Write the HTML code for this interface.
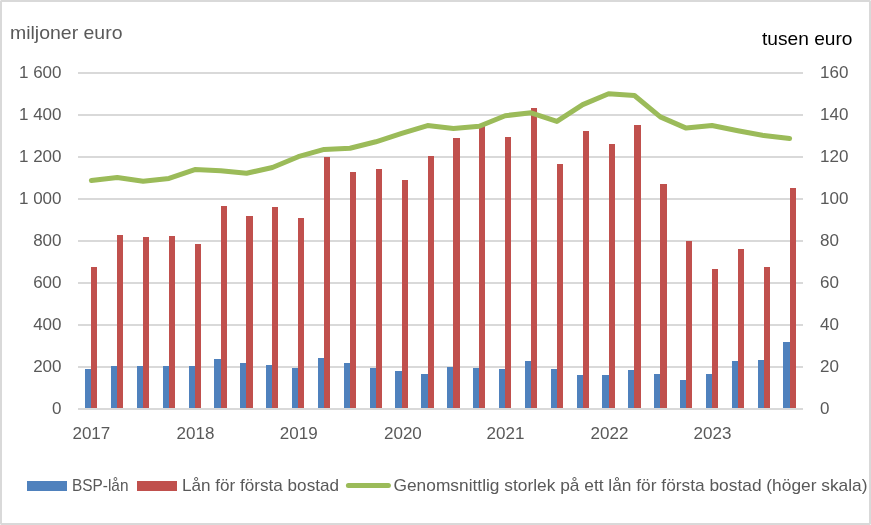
<!DOCTYPE html>
<html><head><meta charset="utf-8"><style>
html,body{margin:0;padding:0;background:#fff;}
#c{position:relative;width:871px;height:525px;overflow:hidden;background:#fff;}
#b{position:absolute;left:0;top:0;width:871px;height:525px;box-sizing:border-box;border:2px solid #d9d9d9;}
text{font-family:'Liberation Sans', Arial, sans-serif;}
.ax{font-size:17px;fill:#595959;}
.t1{font-size:18.5px;fill:#595959;}
.t2{font-size:18.5px;fill:#000;}
.lg{font-size:17px;fill:#595959;}
</style></head><body><div id="c">
<div id="b"></div>
<svg width="871" height="525" viewBox="0 0 871 525" style="position:absolute;left:0;top:0;will-change:transform">
<rect x="78" y="72" width="725" height="2" fill="#d9d9d9"/>
<rect x="78" y="114" width="725" height="2" fill="#d9d9d9"/>
<rect x="78" y="156" width="725" height="2" fill="#d9d9d9"/>
<rect x="78" y="198" width="725" height="2" fill="#d9d9d9"/>
<rect x="78" y="240" width="725" height="2" fill="#d9d9d9"/>
<rect x="78" y="282" width="725" height="2" fill="#d9d9d9"/>
<rect x="78" y="324" width="725" height="2" fill="#d9d9d9"/>
<rect x="78" y="366" width="725" height="2" fill="#d9d9d9"/>
<rect x="78" y="408" width="725" height="2" fill="#d9d9d9"/>
<rect x="85" y="369" width="6" height="39" fill="#4f81bd"/>
<rect x="91" y="267" width="6" height="141" fill="#c0504d"/>
<rect x="111" y="366" width="6" height="42" fill="#4f81bd"/>
<rect x="117" y="235" width="6" height="173" fill="#c0504d"/>
<rect x="137" y="366" width="6" height="42" fill="#4f81bd"/>
<rect x="143" y="237" width="6" height="171" fill="#c0504d"/>
<rect x="163" y="366" width="6" height="42" fill="#4f81bd"/>
<rect x="169" y="236" width="6" height="172" fill="#c0504d"/>
<rect x="189" y="366" width="6" height="42" fill="#4f81bd"/>
<rect x="195" y="244" width="6" height="164" fill="#c0504d"/>
<rect x="214" y="359" width="7" height="49" fill="#4f81bd"/>
<rect x="221" y="206" width="6" height="202" fill="#c0504d"/>
<rect x="240" y="363" width="6" height="45" fill="#4f81bd"/>
<rect x="246" y="216" width="7" height="192" fill="#c0504d"/>
<rect x="266" y="365" width="6" height="43" fill="#4f81bd"/>
<rect x="272" y="207" width="6" height="201" fill="#c0504d"/>
<rect x="292" y="368" width="6" height="40" fill="#4f81bd"/>
<rect x="298" y="218" width="6" height="190" fill="#c0504d"/>
<rect x="318" y="358" width="6" height="50" fill="#4f81bd"/>
<rect x="324" y="157" width="6" height="251" fill="#c0504d"/>
<rect x="344" y="363" width="6" height="45" fill="#4f81bd"/>
<rect x="350" y="172" width="6" height="236" fill="#c0504d"/>
<rect x="370" y="368" width="6" height="40" fill="#4f81bd"/>
<rect x="376" y="169" width="6" height="239" fill="#c0504d"/>
<rect x="395" y="371" width="7" height="37" fill="#4f81bd"/>
<rect x="402" y="180" width="6" height="228" fill="#c0504d"/>
<rect x="421" y="374" width="7" height="34" fill="#4f81bd"/>
<rect x="428" y="156" width="6" height="252" fill="#c0504d"/>
<rect x="447" y="367" width="6" height="41" fill="#4f81bd"/>
<rect x="453" y="138" width="7" height="270" fill="#c0504d"/>
<rect x="473" y="368" width="6" height="40" fill="#4f81bd"/>
<rect x="479" y="126" width="6" height="282" fill="#c0504d"/>
<rect x="499" y="369" width="6" height="39" fill="#4f81bd"/>
<rect x="505" y="137" width="6" height="271" fill="#c0504d"/>
<rect x="525" y="361" width="6" height="47" fill="#4f81bd"/>
<rect x="531" y="108" width="6" height="300" fill="#c0504d"/>
<rect x="551" y="369" width="6" height="39" fill="#4f81bd"/>
<rect x="557" y="164" width="6" height="244" fill="#c0504d"/>
<rect x="577" y="375" width="6" height="33" fill="#4f81bd"/>
<rect x="583" y="131" width="6" height="277" fill="#c0504d"/>
<rect x="602" y="375" width="7" height="33" fill="#4f81bd"/>
<rect x="609" y="144" width="6" height="264" fill="#c0504d"/>
<rect x="628" y="370" width="6" height="38" fill="#4f81bd"/>
<rect x="634" y="125" width="7" height="283" fill="#c0504d"/>
<rect x="654" y="374" width="6" height="34" fill="#4f81bd"/>
<rect x="660" y="184" width="7" height="224" fill="#c0504d"/>
<rect x="680" y="380" width="6" height="28" fill="#4f81bd"/>
<rect x="686" y="241" width="6" height="167" fill="#c0504d"/>
<rect x="706" y="374" width="6" height="34" fill="#4f81bd"/>
<rect x="712" y="269" width="6" height="139" fill="#c0504d"/>
<rect x="732" y="361" width="6" height="47" fill="#4f81bd"/>
<rect x="738" y="249" width="6" height="159" fill="#c0504d"/>
<rect x="758" y="360" width="6" height="48" fill="#4f81bd"/>
<rect x="764" y="267" width="6" height="141" fill="#c0504d"/>
<rect x="783" y="342" width="7" height="66" fill="#4f81bd"/>
<rect x="790" y="188" width="6" height="220" fill="#c0504d"/>
<polyline points="91.40,180.50 117.26,177.50 143.12,181.20 168.98,178.40 194.84,169.55 220.70,170.70 246.56,173.25 272.41,167.50 298.27,156.70 324.13,149.40 349.99,148.20 375.85,141.80 401.71,133.40 427.57,125.60 453.43,128.50 479.29,126.30 505.15,115.70 531.01,112.80 556.87,121.40 582.73,104.60 608.59,93.70 634.44,95.50 660.30,116.90 686.16,128.10 712.02,125.50 737.88,130.80 763.74,135.60 789.60,138.50" fill="none" stroke="#9bbb59" stroke-width="5" stroke-linecap="round" stroke-linejoin="round"/>
<text x="61.5" y="78.3" text-anchor="end" class="ax">1 600</text>
<text x="61.5" y="120.3" text-anchor="end" class="ax">1 400</text>
<text x="61.5" y="162.3" text-anchor="end" class="ax">1 200</text>
<text x="61.5" y="204.3" text-anchor="end" class="ax">1 000</text>
<text x="61.5" y="246.3" text-anchor="end" class="ax">800</text>
<text x="61.5" y="288.3" text-anchor="end" class="ax">600</text>
<text x="61.5" y="330.3" text-anchor="end" class="ax">400</text>
<text x="61.5" y="372.3" text-anchor="end" class="ax">200</text>
<text x="61.5" y="414.3" text-anchor="end" class="ax">0</text>
<text x="820" y="78.3" class="ax">160</text>
<text x="820" y="120.3" class="ax">140</text>
<text x="820" y="162.3" class="ax">120</text>
<text x="820" y="204.3" class="ax">100</text>
<text x="820" y="246.3" class="ax">80</text>
<text x="820" y="288.3" class="ax">60</text>
<text x="820" y="330.3" class="ax">40</text>
<text x="820" y="372.3" class="ax">20</text>
<text x="820" y="414.3" class="ax">0</text>
<text x="91.35" y="438.9" text-anchor="middle" class="ax">2017</text>
<text x="195.50" y="438.9" text-anchor="middle" class="ax">2018</text>
<text x="298.70" y="438.9" text-anchor="middle" class="ax">2019</text>
<text x="402.90" y="438.9" text-anchor="middle" class="ax">2020</text>
<text x="505.50" y="438.9" text-anchor="middle" class="ax">2021</text>
<text x="609.45" y="438.9" text-anchor="middle" class="ax">2022</text>
<text x="712.50" y="438.9" text-anchor="middle" class="ax">2023</text>
<text x="10" y="38.7" class="t1" textLength="112.5" lengthAdjust="spacingAndGlyphs">miljoner euro</text>
<text x="762" y="44.8" class="t2" textLength="90.5" lengthAdjust="spacingAndGlyphs">tusen euro</text>
<rect x="27" y="481" width="40" height="10" fill="#4f81bd"/>
<rect x="137" y="481" width="40" height="10" fill="#c0504d"/>
<line x1="348.4" y1="485.5" x2="388.4" y2="485.5" stroke="#9bbb59" stroke-width="5" stroke-linecap="round"/>
<text x="72" y="490.5" class="lg" textLength="56.5" lengthAdjust="spacingAndGlyphs">BSP-lån</text>
<text x="182" y="490.5" class="lg" textLength="157" lengthAdjust="spacingAndGlyphs">Lån för första bostad</text>
<text x="393.5" y="490.5" class="lg" textLength="474" lengthAdjust="spacingAndGlyphs">Genomsnittlig storlek på ett lån för första bostad (höger skala)</text>
<rect x="0" y="0" width="1" height="1" fill="#ededed"/>
<rect x="870" y="0" width="1" height="1" fill="#ededed"/>
<rect x="0" y="524" width="1" height="1" fill="#ededed"/>
<rect x="870" y="524" width="1" height="1" fill="#ededed"/>
</svg>
</div></body></html>
